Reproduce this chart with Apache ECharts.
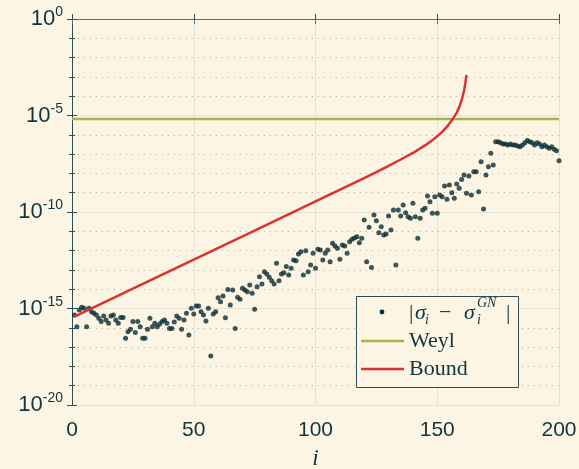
<!DOCTYPE html>
<html>
<head>
<meta charset="utf-8">
<script src="https://cdn.jsdelivr.net/npm/echarts@6/dist/echarts.min.js"></script>
<style>
  html, body { margin: 0; padding: 0; background: #fcf5e3; }
  #chart { width: 579px; height: 469px; }
</style>
</head>
<body>
<div id="chart"></div>
<script>
// singular value errors, stored as log10 of |sigma_i - sigma_i^GN|, i = 1..200
var errExp = [
  -15.34, -15.94, -15.08, -14.94, -14.99, -15.94, -14.99, -15.17, -15.25, -15.34,
  -15.50, -15.68, -15.39, -15.60, -15.77, -15.39, -15.34, -15.60, -15.77, -15.46,
  -15.46, -16.54, -16.20, -16.08, -15.68, -16.24, -15.68, -15.94, -16.54, -16.54,
  -16.08, -15.51, -15.94, -15.77, -15.94, -15.80, -15.68, -15.60, -15.77, -16.03,
  -16.03, -15.70, -15.39, -15.51, -16.08, -15.60, -15.25, -16.37, -14.99, -15.28,
  -14.87, -14.87, -15.17, -15.34, -15.65, -14.99, -17.46, -15.28, -15.17, -14.44,
  -14.65, -14.35, -15.48, -14.01, -14.82, -14.04, -16.03, -14.42, -14.52, -13.95,
  -14.04, -14.13, -13.78, -14.21, -15.04, -13.87, -13.35, -13.73, -13.09, -13.21,
  -13.38, -13.56, -13.73, -12.66, -13.56, -13.21, -13.15, -12.83, -13.26, -12.92,
  -12.49, -12.52, -12.18, -12.06, -13.26, -12.01, -13.09, -12.75, -12.14, -12.92,
  -11.93, -11.97, -12.49, -12.14, -11.97, -12.58, -11.62, -11.76, -11.88, -12.45,
  -11.71, -11.76, -12.14, -11.54, -11.41, -11.35, -11.28, -11.59, -11.36, -10.41,
  -12.58, -10.79, -12.87, -10.16, -10.45, -11.07, -10.76, -11.19, -11.14, -10.21,
  -10.93, -9.90, -12.75, -9.90, -10.21, -9.64, -10.04, -10.24, -10.33, -9.55,
  -10.24, -11.36, -10.33, -9.90, -9.81, -9.17, -9.47, -10.07, -9.21, -10.07,
  -9.12, -9.21, -8.65, -9.34, -8.60, -9.00, -9.29, -8.55, -8.77, -8.31,
  -8.08, -9.03, -8.13, -9.12, -7.91, -7.91, -8.95, -7.39, -9.84, -8.08,
  -7.65, -6.96, -7.56, -6.36, -6.36, -6.41, -6.48, -6.48, -6.53, -6.48,
  -6.53, -6.53, -6.58, -6.62, -6.53, -6.41, -6.30, -6.36, -6.41, -6.53,
  -6.41, -6.48, -6.62, -6.53, -6.62, -6.70, -6.62, -6.75, -6.82, -7.34
]

// Weyl bound (log10), constant
var weylExp = -5.18

// perturbation bound (log10) read at a few i
var boundIdx = [1, 25, 50, 75, 100, 120, 125, 130, 135, 140, 145, 148, 150, 152, 154, 156, 158, 159, 160, 161, 161.5, 162]
var boundExp = [-15.42, -13.97, -12.47, -10.96, -9.45, -8.24, -7.93, -7.61, -7.28, -6.94, -6.55, -6.28, -6.08, -5.85, -5.58, -5.25, -4.85, -4.58, -4.22, -3.72, -3.35, -2.9]

var xTicks = [0, 50, 100, 150, 200]
var yTicks = [-20, -15, -10, -5, 0]

var bg = '#fcf5e3'
var ink = '#0f3641'
var frame = '#2b4f58'
var green = '#a5b548'
var red = '#dc322f'

var chart = echarts.init(document.getElementById('chart'))

var scatterData = errExp.map(function (v, k) { return [k + 1, v] })
var boundData = boundIdx.map(function (v, k) { return [v, boundExp[k]] })

function yLabel(v) {
  return '{b|10}{s|' + v + '}'
}

var option = {
  backgroundColor: bg,
  animation: false,
  grid: { left: 72, right: 20, top: 19, bottom: 64, outerBoundsMode: 'none', containLabel: false },
  xAxis: [{
    type: 'value',
    min: xTicks[0], max: xTicks[xTicks.length - 1], interval: 50,
    position: 'bottom',
    axisLine: { show: true, lineStyle: { color: frame, width: 1 } },
    axisTick: { show: true, inside: true, length: 5, lineStyle: { color: frame } },
    axisLabel: { fontSize: 21, color: ink, fontFamily: 'Liberation Sans', margin: 15 },
    splitLine: { show: true, lineStyle: { color: '#e6e1d2', width: 1 } },
    name: 'i',
    nameLocation: 'middle',
    nameGap: 42,
    nameTextStyle: { fontSize: 23, fontStyle: 'italic', fontFamily: 'Liberation Serif', color: ink }
  }, {
    type: 'value',
    min: xTicks[0], max: xTicks[xTicks.length - 1], interval: 50,
    position: 'top',
    axisLine: { show: true, lineStyle: { color: '#52707a', width: 1 } },
    axisTick: { show: true, inside: true, length: 5, lineStyle: { color: '#52707a' } },
    axisLabel: { show: false },
    splitLine: { show: false }
  }],
  yAxis: [{
    type: 'value',
    min: yTicks[0], max: yTicks[yTicks.length - 1], interval: 5,
    position: 'left',
    axisLine: { show: true, lineStyle: { color: frame, width: 1 } },
    axisTick: { show: true, inside: true, length: 5, lineStyle: { color: frame } },
    minorTick: { show: true, splitNumber: 5, length: 3, lineStyle: { color: frame } },
    minorSplitLine: { show: true, lineStyle: { color: '#b8b3a3', type: [1, 5], width: 1 } },
    splitLine: { show: true, lineStyle: { color: '#e6e1d2', width: 1 } },
    axisLabel: {
      color: ink, margin: 9,
      formatter: yLabel,
      rich: {
        b: { fontSize: 22, fontFamily: 'Liberation Sans', color: ink },
        s: { fontSize: 14, fontFamily: 'Liberation Sans', color: ink, padding: [0, 0, 13, 0] }
      }
    }
  }, {
    type: 'value',
    min: yTicks[0], max: yTicks[yTicks.length - 1], interval: 5,
    position: 'right',
    axisLine: { show: true, lineStyle: { color: frame, width: 1 } },
    axisTick: { show: true, inside: true, length: 5, lineStyle: { color: frame } },
    minorTick: { show: true, splitNumber: 5, length: 3, lineStyle: { color: frame } },
    axisLabel: { show: false },
    splitLine: { show: false }
  }],
  series: [{
    name: 'err',
    type: 'scatter',
    data: scatterData,
    symbolSize: 5,
    itemStyle: { color: '#0b2d36' },
    z: 3
  }, {
    name: 'Weyl',
    type: 'line',
    data: [[0, weylExp], [200, weylExp]],
    symbol: 'none',
    lineStyle: { color: green, width: 2.5 },
    z: 2
  }, {
    name: 'Bound',
    type: 'line',
    data: boundData,
    symbol: 'none',
    lineStyle: { color: red, width: 2.5 },
    z: 4
  }],
  graphic: [
    { type: 'rect', shape: { x: 356.5, y: 296.5, width: 162, height: 91 }, style: { fill: bg, stroke: frame, lineWidth: 1 }, z: 100 },
    { type: 'circle', shape: { cx: 382, cy: 312, r: 2.4 }, style: { fill: '#0b2d36' }, z: 101 },
    { type: 'line', shape: { x1: 361, y1: 341, x2: 404, y2: 341 }, style: { stroke: green, lineWidth: 2.5 }, z: 101 },
    { type: 'line', shape: { x1: 361, y1: 369, x2: 404, y2: 369 }, style: { stroke: red, lineWidth: 2.5 }, z: 101 },
    { type: 'text', x: 409, y: 341, style: { text: 'Weyl', font: '22px "Liberation Serif"', fill: ink, verticalAlign: 'middle' }, z: 101 },
    { type: 'text', x: 409, y: 369, style: { text: 'Bound', font: '22px "Liberation Serif"', fill: ink, verticalAlign: 'middle' }, z: 101 },
    { type: 'text', x: 409, y: 313, style: { text: '|', font: '22px "Liberation Serif"', fill: ink, verticalAlign: 'middle' }, z: 101 },
    { type: 'text', x: 415, y: 313, style: { text: 'σ', font: 'italic 22px "Liberation Serif"', fill: ink, verticalAlign: 'middle' }, z: 101 },
    { type: 'text', x: 425, y: 320, style: { text: 'i', font: 'italic 14px "Liberation Serif"', fill: ink, verticalAlign: 'middle' }, z: 101 },
    { type: 'text', x: 439, y: 313, style: { text: '−', font: '22px "Liberation Serif"', fill: ink, verticalAlign: 'middle' }, z: 101 },
    { type: 'text', x: 464, y: 313, style: { text: 'σ', font: 'italic 22px "Liberation Serif"', fill: ink, verticalAlign: 'middle' }, z: 101 },
    { type: 'text', x: 477, y: 320, style: { text: 'i', font: 'italic 14px "Liberation Serif"', fill: ink, verticalAlign: 'middle' }, z: 101 },
    { type: 'text', x: 477, y: 303, style: { text: 'GN', font: 'italic 14px "Liberation Serif"', fill: ink, verticalAlign: 'middle' }, z: 101 },
    { type: 'text', x: 506, y: 313, style: { text: '|', font: '22px "Liberation Serif"', fill: ink, verticalAlign: 'middle' }, z: 101 }
  ]
}

chart.setOption(option)
</script>
</body>
</html>
